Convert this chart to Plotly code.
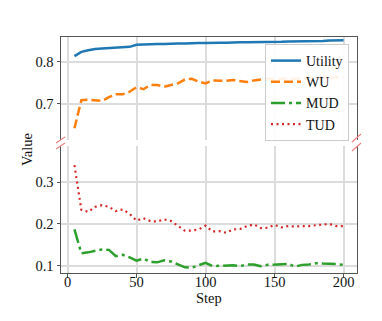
import plotly.graph_objects as go

steps = list(range(5, 205, 5))

utility = [0.814, 0.824, 0.828, 0.831, 0.832, 0.833, 0.834, 0.835, 0.836, 0.841,
           0.842, 0.842, 0.843, 0.843, 0.844, 0.844, 0.844, 0.845, 0.845, 0.845,
           0.846, 0.846, 0.846, 0.847, 0.847, 0.847, 0.847, 0.848, 0.848, 0.848,
           0.848, 0.849, 0.849, 0.849, 0.850, 0.850, 0.850, 0.851, 0.851, 0.852]
wu = [0.642, 0.709, 0.710, 0.709, 0.707, 0.716, 0.723, 0.723, 0.729, 0.740,
      0.735, 0.745, 0.745, 0.741, 0.745, 0.749, 0.758, 0.760, 0.753, 0.749,
      0.756, 0.755, 0.755, 0.757, 0.754, 0.752, 0.756, 0.758, 0.760, 0.759,
      0.760, 0.761, 0.760, 0.762, 0.761, 0.762, 0.763, 0.762, 0.763, 0.764]
mud = [0.187, 0.130, 0.132, 0.136, 0.139, 0.138, 0.123, 0.126, 0.120, 0.112,
       0.117, 0.109, 0.108, 0.113, 0.110, 0.103, 0.096, 0.095, 0.101, 0.107,
       0.099, 0.100, 0.100, 0.101, 0.099, 0.103, 0.103, 0.099, 0.102, 0.103,
       0.103, 0.104, 0.098, 0.102, 0.103, 0.106, 0.105, 0.105, 0.104, 0.102]
tud = [0.341, 0.234, 0.229, 0.241, 0.245, 0.241, 0.231, 0.235, 0.224, 0.208,
       0.214, 0.207, 0.206, 0.211, 0.207, 0.195, 0.184, 0.184, 0.187, 0.196,
       0.182, 0.183, 0.179, 0.187, 0.188, 0.195, 0.199, 0.190, 0.191, 0.198,
       0.192, 0.195, 0.194, 0.195, 0.195, 0.197, 0.198, 0.200, 0.195, 0.195]

# page offset from the default body margin
OFF = 8
W, H = 374, 313
# plot area in page pixels
PL, PR, PT, PB = 61, 357, 37, 273
L, R, T, B = PL - OFF, W - (PR - OFF), PT - OFF, H - (PB - OFF)
pw, ph = W - L - R, H - T - B


def px(x):
    return (x - OFF - L) / pw


def py(y):
    return (H - B - (y - OFF)) / ph


font = dict(family="Liberation Serif, Times New Roman, serif", size=14.5, color="#111")
lfont = dict(font, size=14)
grid = "#dcdcdc"
spine = "#555"

fig = go.Figure()
fig.add_trace(go.Scatter(x=steps, y=utility, name="Utility", xaxis="x2", yaxis="y2",
                         mode="lines", line=dict(color="#1f77b4", width=2.5)))
fig.add_trace(go.Scatter(x=steps, y=wu, name="WU", xaxis="x2", yaxis="y2",
                         mode="lines", line=dict(color="#ff7f0e", width=2.5, dash="9px,4px")))
fig.add_trace(go.Scatter(x=steps, y=mud, name="MUD", xaxis="x", yaxis="y",
                         mode="lines", line=dict(color="#2ca02c", width=2.5, dash="14px,4px,3px,4px")))
fig.add_trace(go.Scatter(x=steps, y=tud, name="TUD", xaxis="x", yaxis="y",
                         mode="lines", line=dict(color="#d62728", width=2.2, dash="2px,3.5px")))

xcommon = dict(range=[-4.75, 209.75], tickvals=[0, 50, 100, 150, 200], showgrid=True,
               gridcolor=grid, gridwidth=1.5, zeroline=False, linecolor=spine, linewidth=1,
               ticks="outside", ticklen=3.5, tickcolor=spine, tickfont=font, automargin=False)
ycommon = dict(showgrid=True, gridcolor=grid, gridwidth=1.5, zeroline=False,
               showline=True, mirror=True, linecolor=spine, linewidth=1,
               ticks="outside", ticklen=3.5, tickcolor=spine, tickfont=font, automargin=False)

bot_top = py(146)
top_bot = py(140)

shapes = []
brk = dict(type="line", xref="paper", yref="paper", line=dict(color="#f08080", width=1.2))
for (x0, y0, x1, y1) in [(56, 143, 65, 137), (56, 149, 65, 143),
                         (352, 142, 361, 134), (352, 151, 361, 143)]:
    shapes.append(dict(brk, x0=px(x0), y0=py(y0), x1=px(x1), y1=py(y1)))

fig.update_layout(
    width=W, height=H, margin=dict(l=L, r=R, t=T, b=B),
    paper_bgcolor="white", plot_bgcolor="white", font=font,
    xaxis=dict(xcommon, anchor="y", domain=[0, 1], showline=True, side="bottom",
               ticklabelstandoff=-8),
    xaxis2=dict(xcommon, anchor="y2", domain=[0, 1], showline=True, side="top",
                showticklabels=False, ticks="", matches="x"),
    yaxis=dict(ycommon, domain=[0, bot_top], range=[0.0825, 0.387],
               tickvals=[0.1, 0.2, 0.3], ticktext=["0.1", "0.2", "0.3"]),
    yaxis2=dict(ycommon, domain=[top_bot, 1], range=[0.614, 0.8595],
                tickvals=[0.7, 0.8], ticktext=["0.7", "0.8"]),
    legend=dict(x=px(349), y=py(44), xanchor="right", yanchor="top",
                bgcolor="rgba(255,255,255,0.9)", bordercolor="#cccccc", borderwidth=1,
                font=lfont, tracegroupgap=0),
    showlegend=True,
    shapes=shapes,
    annotations=[
        dict(text="Value", xref="paper", yref="paper", x=px(27), y=py(150),
             xanchor="center", yanchor="middle",
             showarrow=False, textangle=-90, font=font),
        dict(text="Step", xref="paper", yref="paper", x=px(209), y=py(298),
             xanchor="center", yanchor="middle", showarrow=False, font=font),
    ],
)

fig.write_html("out.html")
